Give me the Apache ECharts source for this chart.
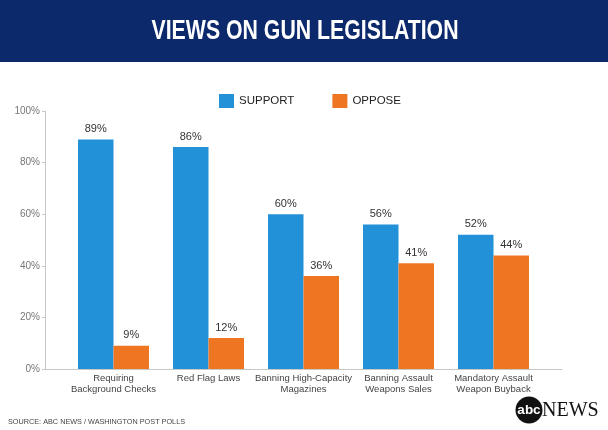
<!DOCTYPE html>
<html>
<head>
<meta charset="utf-8">
<script src="https://cdn.jsdelivr.net/npm/echarts@6/dist/echarts.min.js"></script>
<style>
html,body{margin:0;padding:0;background:#fff;}
#chart{width:608px;height:430px;}
</style>
</head>
<body>
<div id="chart"></div>
<script>
const titleText = 'VIEWS ON GUN LEGISLATION';
const sourceText = 'SOURCE: ABC NEWS / WASHINGTON POST POLLS';
const categories = ['Requiring\nBackground Checks', 'Red Flag Laws', 'Banning High-Capacity\nMagazines', 'Banning Assault\nWeapons Sales', 'Mandatory Assault\nWeapon Buyback'];
const seriesNames = ['SUPPORT', 'OPPOSE'];
const support = [89, 86, 60, 56, 52];
const oppose = [9, 12, 36, 41, 44];
const yMin = 0, yMax = 100, yInterval = 20;

const chart = echarts.init(document.getElementById('chart'), null, {renderer: 'canvas'});
const font = '"Liberation Sans", Arial, sans-serif';
const labelStyle = {show: true, position: 'top', distance: 5, formatter: '{c}%', fontSize: 11, color: '#333', fontFamily: font};

chart.setOption({
  backgroundColor: '#fff',
  animation: false,
  graphic: [
    {type: 'rect', z: -1, shape: {x: 0, y: 0, width: 608, height: 62}, style: {fill: '#0c2a6b'}},
    {type: 'text', x: 305, y: 31, scaleX: 0.76, style: {text: titleText, fontSize: 28, fontWeight: 'bold', fill: '#fff', align: 'center', verticalAlign: 'middle', fontFamily: font}},
    {type: 'text', x: 8, y: 422, scaleX: 0.97, style: {text: sourceText, fontSize: 7.5, fill: '#444', verticalAlign: 'middle', fontFamily: font}},
    {type: 'circle', shape: {cx: 529, cy: 410, r: 13.5}, style: {fill: '#111'}},
    {type: 'text', x: 529, y: 410, style: {text: 'abc', fontSize: 13.5, fontWeight: 'bold', fill: '#fff', align: 'center', verticalAlign: 'middle', fontFamily: font}},
    {type: 'text', x: 542, y: 411, style: {text: 'NEWS', fontSize: 20, fill: '#111', verticalAlign: 'middle', fontFamily: '"Liberation Serif", "Times New Roman", serif'}}
  ],
  legend: {
    data: seriesNames,
    left: 214,
    top: 89,
    icon: 'rect',
    itemWidth: 15,
    itemHeight: 14,
    itemGap: 38,
    textStyle: {fontSize: 11.5, color: '#222', fontFamily: font}
  },
  grid: [
    {left: 45, right: 46, top: 111, bottom: 61},
    {left: 66, right: 67, top: 111, bottom: 61}
  ],
  xAxis: [
    {type: 'value', gridIndex: 0, min: 0, max: 1, axisLine: {show: true, onZero: false, lineStyle: {color: '#c8c8c8'}}, axisTick: {show: false}, axisLabel: {show: false}, splitLine: {show: false}},
    {type: 'category', gridIndex: 1, data: categories, axisLine: {show: false}, axisTick: {show: false},
     axisLabel: {fontSize: 9.5, color: '#444', lineHeight: 11, margin: 4, interval: 0, fontFamily: font}}
  ],
  yAxis: [
    {type: 'value', gridIndex: 0, min: yMin, max: yMax, interval: yInterval,
     axisLine: {show: true, lineStyle: {color: '#c8c8c8'}},
     axisTick: {show: true, length: 3, lineStyle: {color: '#c8c8c8'}},
     axisLabel: {formatter: '{value}%', fontSize: 10, color: '#777', margin: 5, fontFamily: font},
     splitLine: {show: false}},
    {type: 'value', gridIndex: 1, min: yMin, max: yMax, interval: yInterval, show: false, splitLine: {show: false}}
  ],
  series: [
    {name: seriesNames[0], type: 'bar', xAxisIndex: 1, yAxisIndex: 1, data: support, barWidth: 35.5, barGap: '0%', itemStyle: {color: '#2391d8'}, label: labelStyle},
    {name: seriesNames[1], type: 'bar', xAxisIndex: 1, yAxisIndex: 1, data: oppose, barWidth: 35.5, barGap: '0%', itemStyle: {color: '#ee7623'}, label: labelStyle}
  ]
});
</script>
</body>
</html>
